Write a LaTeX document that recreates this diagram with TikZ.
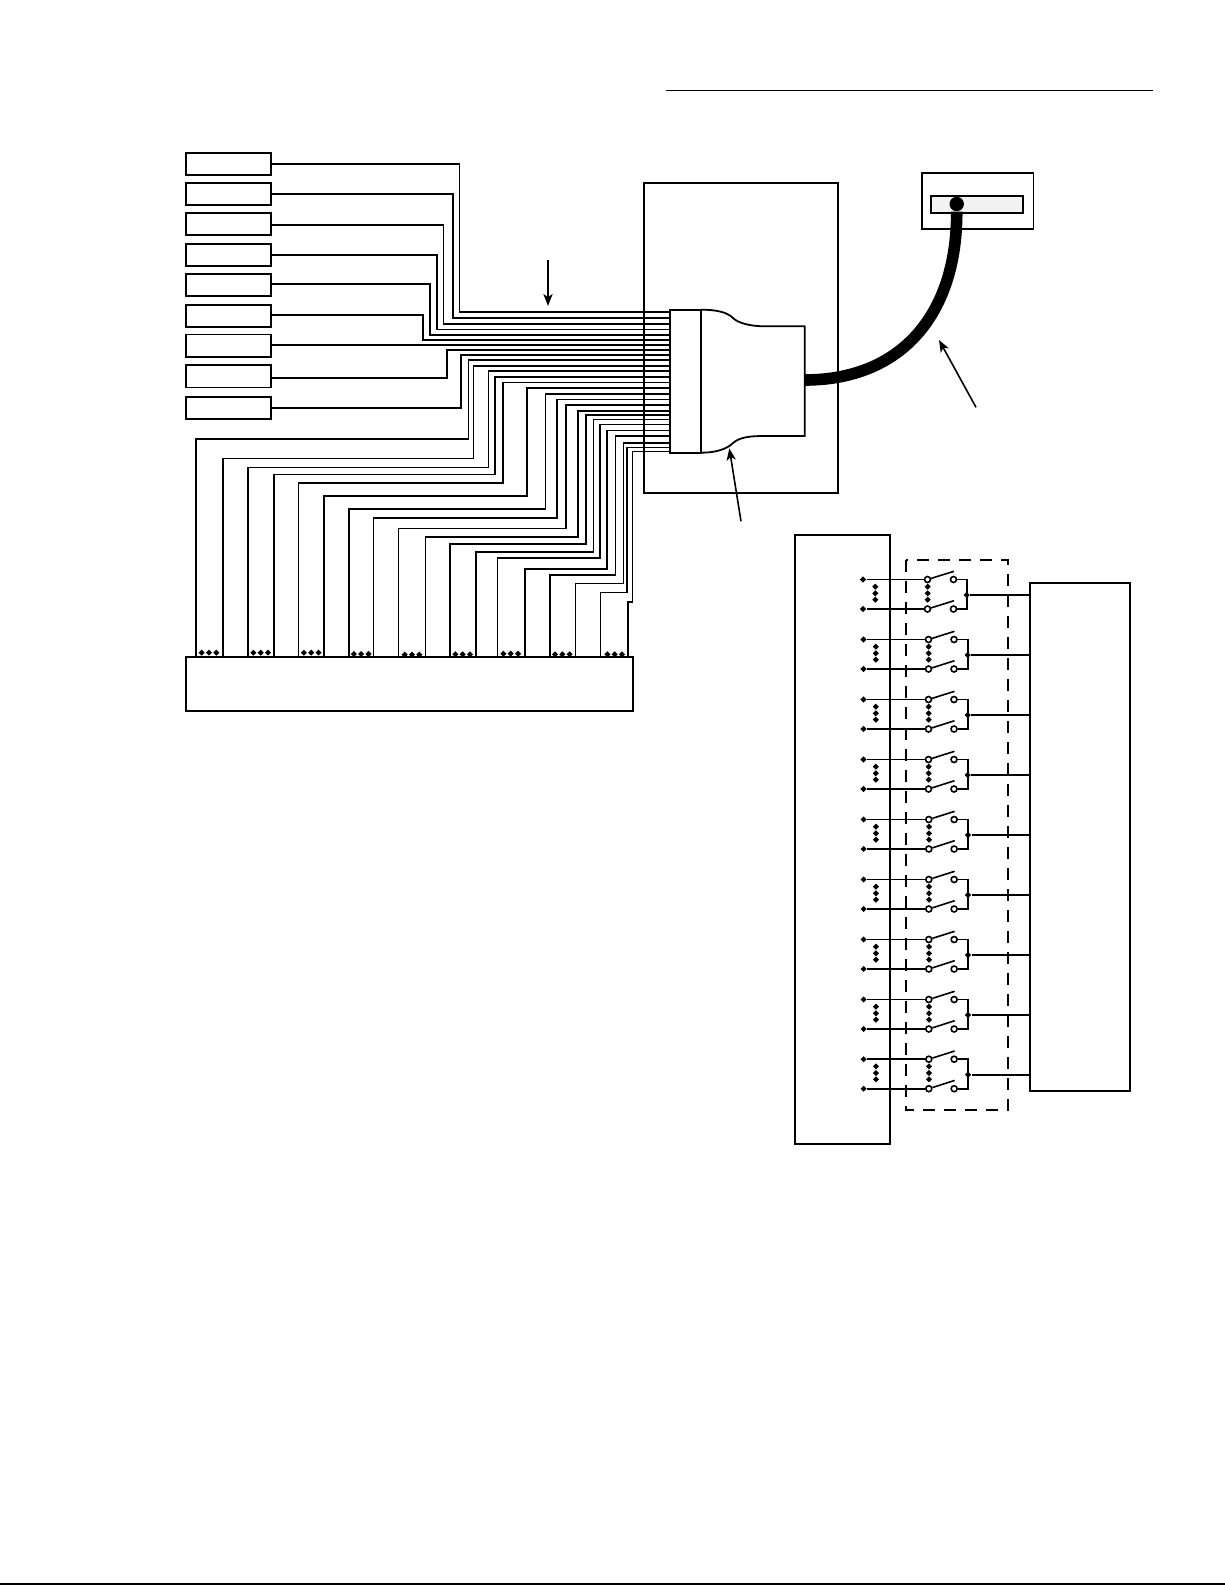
\documentclass[tikz,border=0pt]{standalone}
\usepackage{tikz}
\usetikzlibrary{arrows.meta,shapes.geometric}

\tikzset{
  panel/.style={draw,line width=.9pt,inner sep=0pt,outer sep=0pt},
  sensor/.style={panel,minimum width=42.4pt,minimum height=11.2pt},
  wire/.style={line width=.8pt},
  pin/.style={diamond,fill=black,inner sep=0pt,minimum size=3.2pt},
  term/.style={circle,draw,fill=white,line width=.8pt,inner sep=0pt,minimum size=3pt}
}

\begin{document}
\begin{tikzpicture}[x=.5pt,y=-.5pt,>={Stealth[length=6pt,width=4.6pt,inset=1.6pt]},line join=miter]
  \useasboundingbox (0,0) rectangle (1225,1585);

  % header rule and foot rule
  \coordinate (ruleL) at (666,90.3);
  \coordinate (ruleR) at (1152.7,90.3);
  \draw[line width=.55pt] (ruleL) -- (ruleR);
  \coordinate (footL) at (0,1584);
  \coordinate (footR) at (1225,1584);
  \draw[line width=.7pt] (footL) -- (footR);

  % sensors
  \foreach \i/\yy in {1/163.9,2/194,3/223.9,4/255,5/285,6/315.8,7/345.7,8/376.2,9/408}
    \node[sensor] (s\i) at (228.4,\yy) {};

  % plug and frame
  \node[panel,minimum width=97.3pt,minimum height=155pt] (frame) at (741,337.7) {};
  \node[panel,fill=white,minimum width=15.5pt,minimum height=71.5pt] (plug) at (685.5,381.2) {};
  \draw[panel] (plug.north east) .. controls (716,309.7) and (727,312) .. (733,318)
        .. controls (738,323) and (750,326.3) .. (765,326.3)
        -- (804.7,326.3) -- (804.7,436) -- (765,436)
        .. controls (750,436) and (740,437) .. (733,443)
        .. controls (727,449) and (716,452.7) .. (plug.south east);

  % top wires
  \foreach \i/\ya/\xb/\yb in {1/164/459.3/311.7,2/193.7/452.7/317.7,3/225/443.3/323.7,
      4/255/436.7/329.3,5/283.7/429.7/334.7,6/315/423/340,8/378/446.7/350,9/407.7/460.7/355}
    \draw[wire] (s\i.east |- 0,\ya) -- (\xb,\ya) -- (\xb,\yb) -- (plug.west |- 0,\yb);
  \draw[wire] (s7.east |- 0,345) -- (plug.west |- 0,345);

  % bus
  \node[panel,minimum width=223.7pt,minimum height=26.7pt] (bus) at (409.4,684) {};
  \foreach \xa/\ya/\xb/\yb in {195.7/439/468.3/360,223/458.3/473.3/366,247.7/467.3/488.3/370.7,
      273.7/474.3/495/376.7,298.3/482.7/502.7/382.3,324/495.7/527/387.7,349/509/545.3/393.7,
      373.3/517.7/556.7/399.3,398.3/528.3/565.7/405,425.3/536.7/577.7/410.7,450/544/585.7/414.7,
      476/552/593.3/419.3,497.3/558/600/424.3,525/569/606.7/430.3,549.7/575/615.5/435.7,
      575.3/583.3/623.5/442.7,600.3/592.3/627/447.3}
    \draw[wire] (\xa,0 |- bus.north) -- (\xa,\ya) -- (\xb,\ya) -- (\xb,\yb) -- (plug.west |- 0,\yb);
  \draw[wire] (628,0 |- bus.north) -- (628,601.7) -- (632.3,601.7) -- (632.3,451.5) -- (plug.west |- 0,451.5);

  % dots on the bus
  \foreach \xx/\yy in {209/652.7,260.7/652.7,311.2/652.7,361.2/654,412/654.7,462.7/654.3,510.7/653.7,562.3/654.3,614.7/654.3}
    \foreach \k in {-7.3,0,7.3}
      \node[pin] at ({\xx+\k},\yy) {};

  % reader with its cable
  \node[panel,minimum width=55.7pt,minimum height=28.2pt] (reader) at (977.7,200.9) {};
  \node[panel,fill=black!5,minimum width=46.3pt,minimum height=8.7pt] (slot) at (977,204.4) {};
  \node[circle,fill=black,inner sep=0pt,minimum size=7.2pt] (jack) at (956.7,204) {};
  \coordinate (hoodR) at (804.7,380);
  \draw[line width=5.8pt] (hoodR) .. controls (900,380) and (957,316) .. (jack);

  % pointers
  \coordinate (ptrA) at (548,260);
  \coordinate (ptrAend) at (548,306);
  \coordinate (ptrB) at (976,407.3);
  \coordinate (ptrBend) at (939,340);
  \coordinate (ptrC) at (741,521.3);
  \coordinate (ptrCend) at (729.3,448.3);
  \draw[->,line width=.8pt] (ptrA) -- (ptrAend);
  \draw[->,line width=.8pt] (ptrB) -- (ptrBend);
  \draw[->,line width=.8pt] (ptrC) -- (ptrCend);

  % relay card
  \node[panel,minimum width=47.5pt,minimum height=304.6pt] (card) at (842.5,839.7) {};
  \node[panel,minimum width=50pt,minimum height=254pt] (loads) at (1080,836.7) {};
  \draw[panel,dash pattern=on 6pt off 4.5pt] (906,560) rectangle (1008,1110);

  % switches
  \foreach \i/\yy/\dx in {1/595/0,2/655/1,3/715/1,4/775/1,5/835/1.3,6/895/1.3,7/955/1.3,8/1015/1.3,9/1074.7/1.3}{
    \node[pin]  (la\i) at ({863+\dx*.5},{\yy-15.5}) {};
    \node[pin]  (lb\i) at ({863+\dx*.5},{\yy+14}) {};
    \node[term] (ca\i) at ({927.5+\dx},{\yy-15.5}) {};
    \node[term] (cb\i) at ({927.5+\dx},{\yy+14}) {};
    \node[term] (oa\i) at ({953.5+\dx*.5},{\yy-15.5}) {};
    \node[term] (ob\i) at ({953.5+\dx*.5},{\yy+14}) {};
    \node[pin]  (out\i) at ({966.7+\dx},\yy) {};
    \coordinate (ta\i) at ({954+\dx*.5},{\yy-23.7});
    \coordinate (tb\i) at ({954+\dx*.5},{\yy+5.7});
    \draw[wire] (la\i) -- (ca\i);
    \draw[wire] (lb\i) -- (cb\i);
    \draw[wire] (ca\i) -- (ta\i);
    \draw[wire] (cb\i) -- (tb\i);
    \draw[wire] (oa\i) -- (oa\i -| out\i) -- (ob\i -| out\i) -- (ob\i);
    \draw[wire] (out\i) -- (out\i -| loads.west);
    \foreach \k in {-8.3,-1.7,4.7}{
      \node[pin] at ({875.3+\dx*.5},{\yy+\k}) {};
      \node[pin] at ({927.7+\dx},{\yy+\k}) {};
    }
  }
\end{tikzpicture}
\end{document}
